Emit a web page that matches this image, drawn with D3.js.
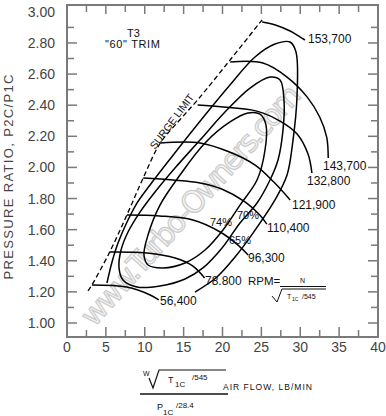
<!DOCTYPE html>
<html>
<head>
<meta charset="utf-8">
<script src="https://cdn.jsdelivr.net/npm/d3@7"></script>
<style>
  body { margin: 0; background: #fff; }
  svg { display: block; }
</style>
</head>
<body>
<script>
// axis ticks
const xTicks = [0, 5, 10, 15, 20, 25, 30, 35, 40];
const yTicks = [1.0, 1.2, 1.4, 1.6, 1.8, 2.0, 2.2, 2.4, 2.6, 2.8, 3.0];

// surge limit (flow lb/min, pressure ratio)
const surgeFlow = [2.7, 3.2, 5.5, 7.7, 9.8, 12.0, 14.5, 16.8, 21.0, 25.1];
const surgePr = [1.206, 1.244, 1.457, 1.694, 1.932, 2.157, 2.305, 2.434, 2.692, 2.949];

// speed lines
const speedNames = ['56,400', '78.800', '96,300', '110,400', '121,900', '132,800', '143,700', '153,700'];
const speedFlow = [
  [3.2, 7.7, 10.7, 11.8],
  [5.5, 10.3, 13.9, 16.2, 17.7],
  [7.7, 11.9, 16.2, 19.7, 22.0, 23.3],
  [9.8, 13.6, 17.1, 19.9, 22.9, 24.8, 25.7],
  [12.0, 17.1, 20.9, 24.2, 26.6, 28.7],
  [16.8, 20.1, 24.4, 27.4, 29.6, 31.0, 31.5],
  [21.0, 25.2, 28.3, 30.9, 32.5, 33.4, 33.6],
  [25.1, 26.8, 28.7, 30.0, 30.6]
];
const speedPr = [
  [1.244, 1.231, 1.180, 1.148],
  [1.457, 1.450, 1.418, 1.366, 1.289],
  [1.694, 1.688, 1.662, 1.585, 1.501, 1.437],
  [1.932, 1.919, 1.900, 1.861, 1.778, 1.694, 1.636],
  [2.157, 2.157, 2.099, 2.015, 1.906, 1.791],
  [2.401, 2.388, 2.362, 2.298, 2.215, 2.086, 1.964],
  [2.677, 2.671, 2.581, 2.452, 2.324, 2.195, 2.060],
  [2.935, 2.916, 2.877, 2.838, 2.819]
];

// efficiency islands (74% and 70% closed, 65% open at the bottom)
const effNames = ['74%', '70%', '65%'];
const effClosed = [true, true, false];
const effFlow = [
  [10.42, 12.35, 15.18, 17.75, 20.06, 22.25, 24.44, 25.47, 25.59, 24.82, 23.28, 20.96, 17.75, 14.53, 11.96, 10.42, 9.90],
  [7.20, 6.69, 6.95, 7.85, 9.39, 11.32, 13.89, 17.11, 20.32, 23.54, 26.11, 27.40, 27.91, 27.78, 27.14, 26.11, 24.44, 22.25, 19.94, 17.49, 15.18, 11.96, 9.00],
  [5.14, 5.79, 6.56, 7.72, 9.00, 10.68, 12.35, 16.72, 20.96, 24.18, 26.75, 28.68, 29.45, 29.58, 29.07, 28.30, 26.75, 23.92, 21.61, 19.29, 16.46]
];
const effPr = [
  [1.373, 1.354, 1.386, 1.469, 1.598, 1.758, 1.919, 2.112, 2.273, 2.343, 2.350, 2.292, 2.157, 1.951, 1.758, 1.566, 1.437],
  [1.276, 1.354, 1.469, 1.585, 1.713, 1.842, 1.996, 2.176, 2.356, 2.510, 2.581, 2.562, 2.433, 2.240, 2.048, 1.919, 1.771, 1.643, 1.482, 1.354, 1.283, 1.238, 1.231],
  [1.257, 1.392, 1.514, 1.649, 1.771, 1.887, 1.996, 2.273, 2.530, 2.710, 2.793, 2.806, 2.742, 2.453, 2.176, 1.951, 1.791, 1.578, 1.424, 1.296, 1.199]
];

const W = 386, H = 416;
const svg = d3.select('body').append('svg')
  .attr('width', W)
  .attr('height', H)
  .style('font-family', '"Liberation Sans", Arial, sans-serif');

const x = d3.scaleLinear().domain([0, 40]).range([67, 378]);
const y = d3.scaleLinear().domain([0.91, 3.044]).range([337, 5]);

const grey = '#7a7a7a';
const textGrey = '#444';

// watermark
svg.append('text')
  .attr('transform', 'translate(94,328) rotate(-48)')
  .attr('font-size', 30)
  .attr('font-family', '"DejaVu Sans", sans-serif')
  .attr('fill', '#f5f5f5')
  .attr('stroke', '#cccccc')
  .attr('stroke-width', 1.2)
  .attr('textLength', 312)
  .text('www.Turbo-Owners.com');

// frame
svg.append('rect')
  .attr('x', x(0)).attr('y', y(3.044))
  .attr('width', x(40) - x(0)).attr('height', y(0.91) - y(3.044))
  .attr('fill', 'none')
  .attr('stroke', grey)
  .attr('stroke-width', 2);

// x ticks top and bottom (minor every 2.5)
const xTickVals = d3.range(2.5, 40, 2.5);
xTickVals.forEach((v) => {
  const major = v % 5 === 0;
  svg.append('line')
    .attr('x1', x(v)).attr('x2', x(v))
    .attr('y1', y(0.91)).attr('y2', y(0.91) - (major ? 10 : 7))
    .attr('stroke', grey).attr('stroke-width', 1.5);
  svg.append('line')
    .attr('x1', x(v)).attr('x2', x(v))
    .attr('y1', y(3.044)).attr('y2', y(3.044) + (major ? 9 : 7))
    .attr('stroke', grey).attr('stroke-width', 1.5);
});

// y ticks left and right (minor every 0.1)
const yTickVals = d3.range(1.0, 2.95, 0.1).map(v => Math.round(v * 10) / 10);
yTickVals.forEach((v) => {
  const major = Math.round(v * 10) % 2 === 0;
  const len = major ? 10 : 7;
  svg.append('line')
    .attr('x1', x(0)).attr('x2', x(0) + len)
    .attr('y1', y(v)).attr('y2', y(v))
    .attr('stroke', grey).attr('stroke-width', 1.5);
  svg.append('line')
    .attr('x1', x(40)).attr('x2', x(40) - len)
    .attr('y1', y(v)).attr('y2', y(v))
    .attr('stroke', grey).attr('stroke-width', 1.5);
});

// tick labels
svg.selectAll('.xl')
  .data(xTicks)
  .enter()
  .append('text')
  .attr('x', d => x(d))
  .attr('y', 352)
  .attr('text-anchor', 'middle')
  .attr('font-size', 14)
  .attr('fill', textGrey)
  .text(d => d);

svg.selectAll('.yl')
  .data(yTicks)
  .enter()
  .append('text')
  .attr('x', 55)
  .attr('y', d => Math.max(y(d) + 5, 9))
  .attr('text-anchor', 'end')
  .attr('font-size', 14)
  .attr('fill', textGrey)
  .text(d => d.toFixed(2));

// y axis title
svg.append('text')
  .attr('transform', 'translate(13,177) rotate(-90)')
  .attr('text-anchor', 'middle')
  .attr('font-size', 13)
  .attr('fill', textGrey)
  .attr('textLength', 205)
  .text('PRESSURE RATIO, P2C/P1C');

const line = d3.line()
  .x(d => x(d[0]))
  .y(d => y(d[1]))
  .curve(d3.curveCatmullRom.alpha(0.5));

const loop = d3.line()
  .x(d => x(d[0]))
  .y(d => y(d[1]))
  .curve(d3.curveCatmullRomClosed.alpha(0.5));

// surge line
svg.append('path')
  .attr('d', line(d3.zip(surgeFlow, surgePr)))
  .attr('fill', 'none')
  .attr('stroke', '#000')
  .attr('stroke-width', 1.3)
  .attr('stroke-dasharray', '5,3');

// efficiency islands
effFlow.forEach((fl, i) => {
  const pts = d3.zip(fl, effPr[i]);
  svg.append('path')
    .attr('d', effClosed[i] ? loop(pts) : line(pts))
    .attr('fill', 'none')
    .attr('stroke', '#000')
    .attr('stroke-width', 1.5);
});

// speed lines
speedFlow.forEach((fl, i) => {
  svg.append('path')
    .attr('d', line(d3.zip(fl, speedPr[i])))
    .attr('fill', 'none')
    .attr('stroke', '#000')
    .attr('stroke-width', 1.5);
});

// speed labels
const speedLabelPos = [[160, 305], [205, 285], [248, 262], [267, 232], [292, 209], [307, 185], [323, 170], [308, 43]];
speedNames.forEach((n, i) => {
  svg.append('text')
    .attr('x', speedLabelPos[i][0])
    .attr('y', speedLabelPos[i][1])
    .attr('font-size', 12)
    .attr('fill', '#111')
    .text(n);
});

// efficiency labels
const effLabelPos = [[210, 226], [237, 219], [229, 244]];
effNames.forEach((n, i) => {
  svg.append('text')
    .attr('x', effLabelPos[i][0])
    .attr('y', effLabelPos[i][1])
    .attr('font-size', 11)
    .attr('fill', '#111')
    .text(n);
});

// surge label
svg.append('text')
  .attr('transform', 'translate(155,150) rotate(-53)')
  .attr('font-size', 10.5)
  .attr('fill', '#111')
  .attr('textLength', 66)
  .text('SURGE  LIMIT');

// trim title
svg.append('text').attr('x', 127).attr('y', 37).attr('font-size', 11).attr('fill', '#111').text('T3');
svg.append('text').attr('x', 105).attr('y', 48).attr('font-size', 11).attr('fill', '#111')
  .attr('textLength', 55).text('"60"  TRIM');

// RPM formula
const rpm = svg.append('g').attr('fill', '#111');
rpm.append('text').attr('x', 248).attr('y', 285).attr('font-size', 11.5).text('RPM=');
rpm.append('text').attr('x', 300).attr('y', 283).attr('font-size', 7).text('N');
rpm.append('line').attr('x1', 280).attr('x2', 326).attr('y1', 286.5).attr('y2', 286.5)
  .attr('stroke', '#111').attr('stroke-width', 1.2);
rpm.append('path').attr('d', 'M272,296 L277,302 L282,289 L326,289')
  .attr('fill', 'none').attr('stroke', '#111').attr('stroke-width', 1);
rpm.append('text').attr('x', 287).attr('y', 299).attr('font-size', 7).text('T');
rpm.append('text').attr('x', 292).attr('y', 301).attr('font-size', 5).text('1C');
rpm.append('text').attr('x', 302).attr('y', 299).attr('font-size', 7).text('/545');

// x axis title
const xt = svg.append('g').attr('fill', '#111');
xt.append('text').attr('x', 143).attr('y', 376).attr('font-size', 7).text('W');
xt.append('path').attr('d', 'M149,378 L153,388 L159,370 L226,370')
  .attr('fill', 'none').attr('stroke', '#111').attr('stroke-width', 1.2);
xt.append('text').attr('x', 168).attr('y', 383).attr('font-size', 9).text('T');
xt.append('text').attr('x', 175).attr('y', 387).attr('font-size', 8).text('1C');
xt.append('text').attr('x', 192).attr('y', 380).attr('font-size', 8).text('/545');
xt.append('line').attr('x1', 140).attr('x2', 228).attr('y1', 394).attr('y2', 394)
  .attr('stroke', '#111').attr('stroke-width', 1.3);
xt.append('text').attr('x', 157).attr('y', 410).attr('font-size', 9).text('P');
xt.append('text').attr('x', 163).attr('y', 415).attr('font-size', 8).text('1C');
xt.append('text').attr('x', 176).attr('y', 408).attr('font-size', 8).text('/28.4');
xt.append('text').attr('x', 223).attr('y', 390).attr('font-size', 8.5)
  .attr('textLength', 89).text('AIR FLOW, LB/MIN');
</script>
</body>
</html>
